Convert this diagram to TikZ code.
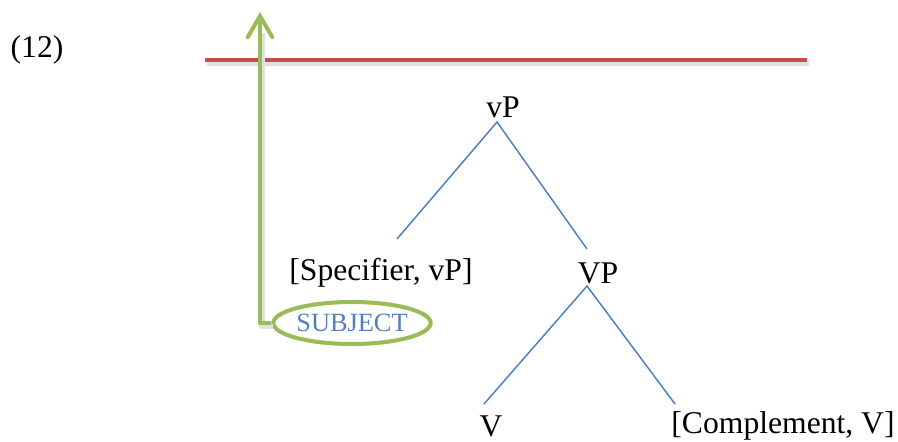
\documentclass[tikz,border=0pt]{standalone}
\usepackage{fontspec}
\setmainfont{Liberation Serif}
\usepackage{xcolor}
\usetikzlibrary{arrows.meta, positioning, shapes.geometric}

\definecolor{barred}{RGB}{192,80,77}
\definecolor{movegreen}{RGB}{155,187,89}
\definecolor{branchblue}{RGB}{79,129,189}

\tikzset{
    label/.style={font=\fontsize{18}{22}\selectfont, inner sep=0pt},
    branch/.style={branchblue, line width=0.85pt},
    softshadow/.style={black!12, line width=3pt, transform canvas={xshift=1.2pt, yshift=-1.8pt}},
}

\begin{document}
\begin{tikzpicture}[x=0.02cm, y=-0.02cm]
    \useasboundingbox (0,0) rectangle (898,441);

    % example number
    \node[label] (num) at (37,50) {(12)};

    % barrier line
    \coordinate (barL) at (205,60);
    \coordinate (barR) at (807,60);
    \draw[softshadow] (barL) -- (barR);
    \draw[barred, line width=2.8pt] (barL) -- (barR);

    % tree
    \node[label] (vP) at (503,107) {vP};
    \node[label] (spec) at (381,273) {[Specifier, vP]};
    \node[label] (VP) at (598,273) {VP};
    \node[label] (V) at (491,426) {V};
    \node[label] (comp) at (783,426) {[Complement, V]};

    \coordinate (vPtop) at (497,122);
    \coordinate (specend) at (397,239);
    \coordinate (VPend) at (587,249);
    \coordinate (VPtop) at (587,286);
    \coordinate (Vend) at (484,404);
    \coordinate (compend) at (675,404);

    \draw[branch] (specend) -- (vPtop) -- (VPend);
    \draw[branch] (Vend) -- (VPtop) -- (compend);

    % moved subject
    \node[ellipse, draw=movegreen, line width=2.3pt, text=branchblue,
          font=\fontsize{15}{18}\selectfont, inner sep=0pt, minimum width=3.1cm, minimum height=0.84cm]
          (subj) at (352,323) {SUBJECT};
    \coordinate (bend) at (260,323);
    \coordinate (tip) at (260,12);
    \coordinate (tipshadow) at (260,30);
    \draw[softshadow, line join=round] (subj.west) -- (bend) -- (tipshadow);
    \draw[movegreen, line width=2.3pt, line join=round,
          -{Straight Barb[length=12pt, width=14pt, line cap=round]}]
          (subj.west) -- (bend) -- (tip);
\end{tikzpicture}
\end{document}
